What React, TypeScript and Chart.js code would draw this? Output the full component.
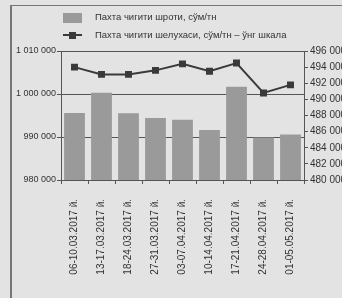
import React, { useEffect, useRef } from "react";
import { Chart, registerables } from "chart.js";

Chart.register(...registerables);

const categories = [
  "06-10.03.2017 й.",
  "13-17.03.2017 й.",
  "18-24.03.2017 й.",
  "27-31.03.2017 й.",
  "03-07.04.2017 й.",
  "10-14.04.2017 й.",
  "17-21.04.2017 й.",
  "24-28.04.2017 й.",
  "01-05.05.2017 й.",
];
const shrotValues = [995600, 1000300, 995500, 994400, 994000, 991600, 1001700, 989900, 990600];
const sheluxaValues = [494000, 493100, 493100, 493600, 494400, 493500, 494500, 490800, 491800];
const shrotLabel = "Пахта чигити шроти, сўм/тн";
const sheluxaLabel = "Пахта чигити шелухаси, сўм/тн – ўнг шкала";
const leftMin = 980000;
const leftMax = 1010000;
const leftStep = 10000;
const rightMin = 480000;
const rightMax = 496000;
const rightStep = 2000;

const BG = "#e3e3e3";
const BAR = "#9a9a9a";
const LINE = "#3a3a3a";
const TEXT = "#333333";
const AXIS = "#555555";
const FONT = "'Liberation Sans', Arial, sans-serif";

const fmt = (v: number) => String(Math.round(v)).replace(/\B(?=(\d{3})+(?!\d))/g, " ");

export default function App() {
  const ref = useRef<HTMLCanvasElement | null>(null);
  useEffect(() => {
    if (!ref.current) return;
    const chart = new Chart(ref.current, {
      type: "bar",
      data: {
        labels: categories,
        datasets: [
          {
            type: "line",
            label: sheluxaLabel,
            data: sheluxaValues,
            yAxisID: "y1",
            borderColor: LINE,
            backgroundColor: LINE,
            borderWidth: 2,
            pointStyle: "rect",
            pointRadius: 3.5,
            pointBackgroundColor: LINE,
            pointBorderColor: LINE,
            tension: 0,
            order: 0,
          } as any,
          {
            type: "bar",
            label: shrotLabel,
            data: shrotValues,
            yAxisID: "y",
            backgroundColor: BAR,
            borderWidth: 0,
            categoryPercentage: 1,
            barPercentage: 0.77,
            order: 1,
          },
        ],
      },
      options: {
        responsive: false,
        animation: false,
        layout: { padding: { top: 51, left: 0, right: 0, bottom: 0 } },
        plugins: { legend: { display: false }, tooltip: { enabled: false } },
        scales: {
          x: {
            grid: { display: true, offset: true, drawOnChartArea: false, color: AXIS, tickLength: 4 },
            border: { display: true, color: AXIS, width: 1 },
            ticks: {
              maxRotation: 90,
              minRotation: 90,
              padding: 15,
              color: TEXT,
              font: { family: FONT, size: 10 },
              autoSkip: false,
            },
            afterFit: (s: any) => {
              s.height = 118;
            },
          },
          y: {
            position: "left",
            min: leftMin,
            max: leftMax,
            ticks: {
              stepSize: leftStep,
              color: TEXT,
              padding: 1,
              font: { family: FONT, size: 9 },
              callback: (v: any) => fmt(Number(v)),
            },
            grid: { color: AXIS, tickLength: 4, lineWidth: 1 },
            border: { display: true, color: AXIS, width: 1 },
            afterFit: (s: any) => {
              s.width = 61;
            },
          },
          y1: {
            position: "right",
            min: rightMin,
            max: rightMax,
            ticks: {
              stepSize: rightStep,
              color: TEXT,
              padding: 2,
              font: { family: FONT, size: 10 },
              callback: (v: any) => fmt(Number(v)),
            },
            grid: { drawOnChartArea: false, color: AXIS, tickLength: 4 },
            border: { display: true, color: AXIS, width: 1 },
            afterFit: (s: any) => {
              s.width = 38;
            },
          },
        },
      },
    });
    return () => chart.destroy();
  }, []);

  const textStyle: React.CSSProperties = {
    position: "absolute",
    left: 95,
    fontFamily: FONT,
    fontSize: 9.5,
    color: TEXT,
    lineHeight: "12px",
    whiteSpace: "nowrap",
  };

  return (
    <div
      style={{
        position: "fixed",
        left: 0,
        top: 0,
        width: 342,
        height: 298,
        background: BG,
        overflow: "hidden",
      }}
    >
      <canvas ref={ref} width={342} height={298} style={{ position: "absolute", left: 0, top: 0 }} />
      <div style={{ position: "absolute", left: 10, top: 5, width: 332, height: 1, background: "#777" }} />
      <div style={{ position: "absolute", left: 10, top: 5, width: 2, height: 293, background: "#777" }} />
      <div style={{ position: "absolute", left: 63, top: 13, width: 19, height: 10, background: BAR }} />
      <div style={{ ...textStyle, top: 11 }}>{shrotLabel}</div>
      <div style={{ position: "absolute", left: 63, top: 34, width: 19, height: 2, background: LINE }} />
      <div style={{ position: "absolute", left: 69, top: 32, width: 7, height: 7, background: LINE }} />
      <div style={{ ...textStyle, top: 29 }}>{sheluxaLabel}</div>
    </div>
  );
}
